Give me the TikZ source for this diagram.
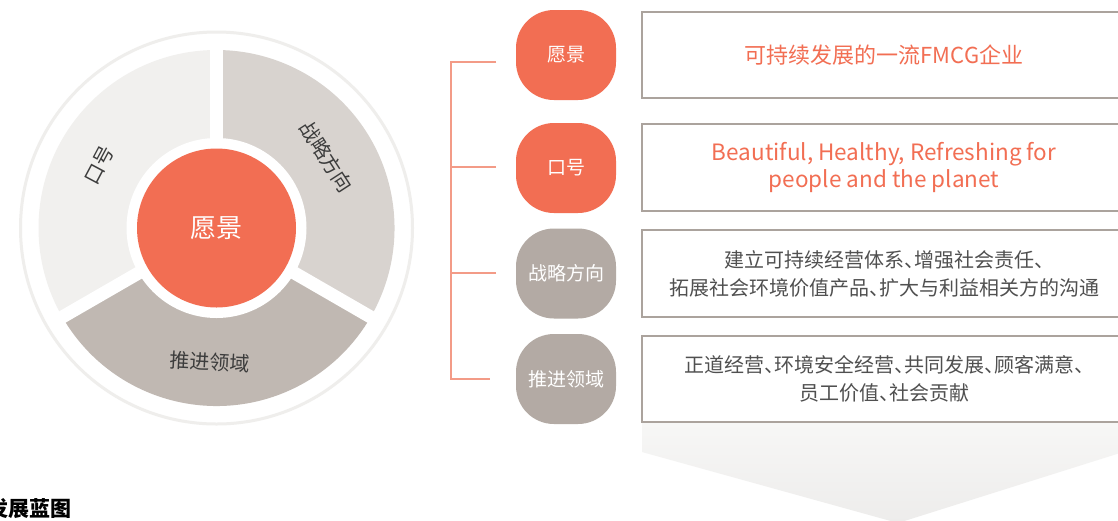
\documentclass[tikz,border=0pt]{standalone}
\usepackage{fontspec}
\setmainfont{Noto Sans CJK SC}
\newfontfamily\haltfont[RawFeature=+halt]{Noto Sans CJK SC}
\definecolor{vorange}{HTML}{F26E53}
\definecolor{blobgray}{HTML}{B3AAA4}
\definecolor{segA}{HTML}{F1F0EE}
\definecolor{segB}{HTML}{D8D3CF}
\definecolor{segC}{HTML}{C0B8B2}
\definecolor{ringc}{HTML}{EFEEEC}
\definecolor{boxline}{HTML}{ABA39D}
\definecolor{txtgray}{HTML}{505050}
\definecolor{seglbl}{HTML}{3C3C3C}
\definecolor{brk}{HTML}{F39B87}
\definecolor{shtop}{HTML}{F7F7F6}
\definecolor{shbot}{HTML}{EDECEB}
\begin{document}
\begin{tikzpicture}[x=1pt,y=-1pt,
  blob/.style={rectangle, rounded corners=38pt, minimum width=100pt, minimum height=90pt,
    text=white, font=\fontsize{19}{22}\selectfont, inner sep=0pt},
  textbox/.style={rectangle, draw=boxline, line width=1.3pt, fill=white,
    minimum width=484pt, align=center, inner sep=0pt},
  seglabel/.style={text=seglbl, font=\fontsize{20}{24}\selectfont, inner sep=0pt},
  brkline/.style={draw=brk, line width=1.2pt},
  gap/.style={draw=white, line width=13pt}]
\useasboundingbox (0,0) rectangle (1118,520);
\clip (0,0) rectangle (1118,520);
\fill[white] (0,0) rectangle (1118,520);

% ---- circle diagram
\begin{scope}[shift={(216.5,228)}, yscale=-1]
  \draw[ringc, line width=3pt] (0,0) circle[radius=196];
  \fill[segA] (0,0) -- (90:178) arc[start angle=90, end angle=210, radius=178] -- cycle;
  \fill[segB] (0,0) -- (-30:178) arc[start angle=-30, end angle=90, radius=178] -- cycle;
  \fill[segC] (0,0) -- (210:178) arc[start angle=210, end angle=330, radius=178] -- cycle;
  \draw[gap] (0,0) -- (90:186);
  \draw[gap] (0,0) -- (210:186);
  \draw[gap] (0,0) -- (330:186);
  \fill[white] (0,0) circle[radius=90];
  \node[circle, fill=vorange, minimum size=159pt, inner sep=0pt, text=white,
    font=\fontsize{26}{30}\selectfont] (vis) at (0,0) {愿景};
  \node[seglabel, rotate=62] (lslogan) at (152:133) {口号};
  \node[seglabel, rotate=-57] (lstrat) at (33:131) {战略方向};
  \node[seglabel, rotate=-3] (lpush) at (267:134) {推进领域};
\end{scope}

% ---- gradient arrow below boxes
\shade[top color=shtop, bottom color=shbot] (642,422) -- (1120,422) -- (1120,453) -- (898,523) -- (642,452) -- cycle;

% ---- bracket
\coordinate (v1) at (451,62);
\coordinate (v4) at (451,379);
\coordinate (k1) at (496,62);
\coordinate (k2) at (496,167);
\coordinate (k3) at (496,273);
\coordinate (k4) at (490,379);
\draw[brkline] (k1) -- (v1) -- (v4) -- (k4);
\draw[brkline] (k2) -- (k2 -| v1);
\draw[brkline] (k3) -- (k3 -| v1);

% ---- blobs
\node[blob, fill=vorange] (b1) at (566,55) {愿景};
\node[blob, fill=vorange] (b2) at (566,168) {口号};
\node[blob, fill=blobgray] (b3) at (566,273.5) {战略方向};
\node[blob, fill=blobgray] (b4) at (566,379) {推进领域};

% ---- text boxes
\node[textbox, minimum height=86pt, text=vorange, font=\fontsize{22}{27}\selectfont] (t1) at (884,55)
  {可持续发展的一流FMCG企业};
\node[textbox, minimum height=87pt, text=vorange, font=\fontsize{22.5}{27}\selectfont] (t2) at (884,167.5)
  {Beautiful, Healthy, Refreshing for\\people and the planet};
\node[textbox, minimum height=87pt, text=txtgray, font=\haltfont\fontsize{20}{28}\selectfont] (t3) at (884,273.5)
  {建立可持续经营体系、增强社会责任、\\拓展社会环境价值产品、扩大与利益相关方的沟通};
\node[textbox, minimum height=86pt, text=txtgray, font=\haltfont\fontsize{20}{28}\selectfont] (t4) at (884,379)
  {正道经营、环境安全经营、共同发展、顾客满意、\\员工价值、社会贡献};

% ---- title
\node[anchor=east, inner sep=0pt, text=black, font=\fontsize{21}{24}\selectfont\bfseries] (title) at (72,509) {发展蓝图};
\end{tikzpicture}
\end{document}
